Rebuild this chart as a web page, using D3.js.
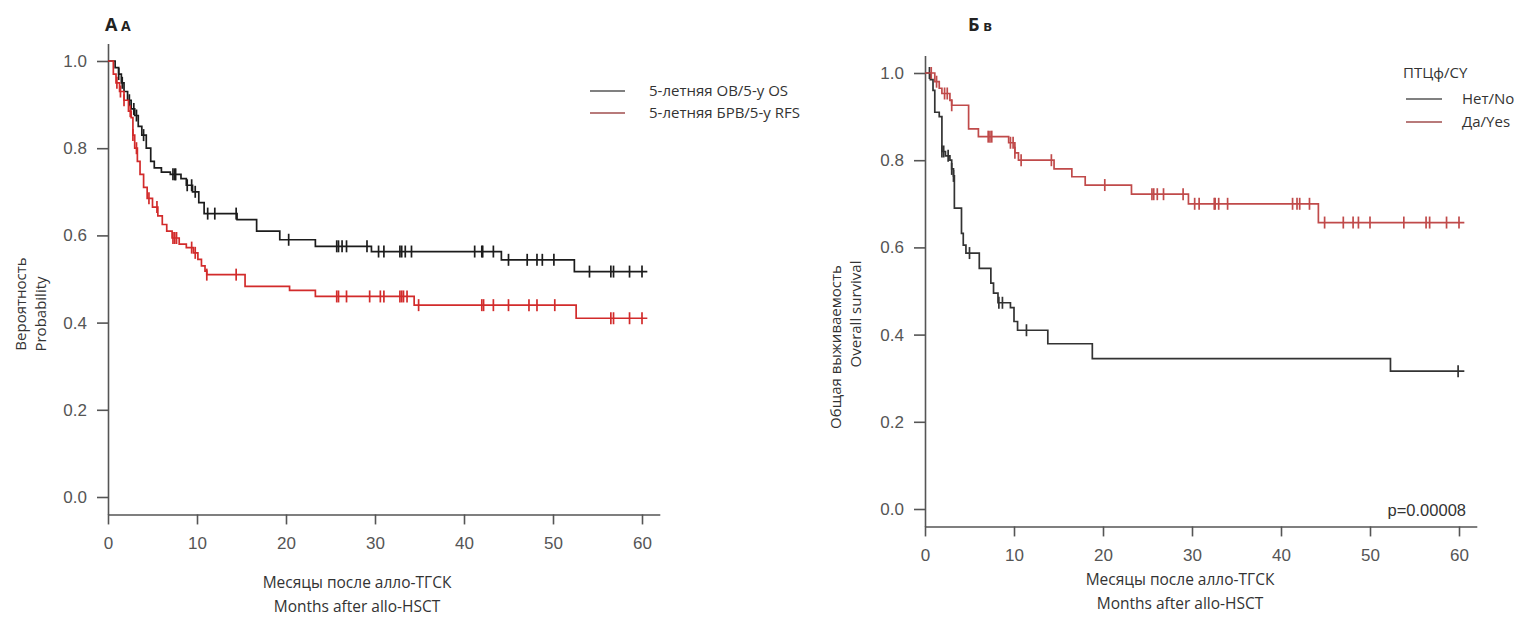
<!DOCTYPE html>
<html>
<head>
<meta charset="utf-8">
<script src="https://cdn.jsdelivr.net/npm/d3@7/dist/d3.min.js"></script>
<style>
  html, body { margin: 0; padding: 0; background: #fff; }
  svg { display: block; }
  .tick text { font-family: "Liberation Sans Narrow", "Liberation Sans", Arial, sans-serif; fill: #555; }
  .lbl { font-family: "Open Sans", "Noto Sans", sans-serif; fill: #333; }
</style>
</head>
<body>
<svg id="chart" width="1529" height="622"></svg>
<script>
// ---------- Data ----------
// Panel A: 5-year OS (black) and 5-year RFS (red)
const osTimes = [0, 0.8, 1.2, 1.5, 1.8, 2.2, 2.6, 3.0, 3.4, 3.8, 4.3, 4.8, 5.2, 6.0, 7.0, 8.2, 8.8, 9.5, 10.2, 10.8, 14.5, 16.7, 19.3, 23.3, 29.6, 44.2, 52.4];
const osSurv  = [1.0, 0.985, 0.97, 0.95, 0.93, 0.91, 0.89, 0.875, 0.85, 0.83, 0.80, 0.77, 0.755, 0.745, 0.74, 0.73, 0.715, 0.70, 0.675, 0.65, 0.636, 0.61, 0.59, 0.575, 0.563, 0.544, 0.517];
const osCensor = [1.2, 1.6, 2.4, 2.9, 3.2, 4.0, 7.3, 7.5, 7.6, 8.9, 9.4, 9.8, 11.2, 12.0, 14.4, 20.3, 25.7, 25.9, 26.3, 26.8, 29.1, 30.4, 31.0, 32.8, 33.0, 33.4, 34.1, 41.2, 42.0, 42.1, 43.3, 45.0, 47.1, 48.2, 48.8, 50.1, 54.1, 56.5, 56.8, 58.6, 60.0];

const rfsTimes = [0, 0.6, 0.9, 1.3, 1.8, 2.3, 2.6, 2.8, 3.0, 3.3, 3.6, 4.0, 4.4, 5.0, 5.6, 6.1, 6.6, 7.2, 8.0, 8.8, 9.6, 10.1, 10.5, 10.9, 11.1, 15.4, 20.4, 23.3, 34.4, 52.6];
const rfsSurv  = [1.0, 0.97, 0.95, 0.93, 0.91, 0.885, 0.87, 0.83, 0.80, 0.77, 0.74, 0.71, 0.685, 0.665, 0.645, 0.625, 0.61, 0.594, 0.58, 0.572, 0.56, 0.545, 0.53, 0.518, 0.51, 0.483, 0.474, 0.46, 0.44, 0.41];
const rfsCensor = [1.0, 1.4, 1.8, 2.5, 2.8, 3.2, 4.6, 5.5, 7.3, 7.5, 7.7, 9.4, 9.8, 11.1, 14.4, 25.7, 25.9, 26.8, 29.4, 30.6, 31.0, 32.8, 33.0, 33.2, 33.6, 34.9, 42.0, 42.2, 43.3, 45.0, 47.3, 48.2, 50.2, 56.5, 56.8, 58.6, 60.0];

// Panel B: PTCy No (black) / Yes (red)
const noTimes = [0, 0.6, 0.9, 1.1, 1.6, 1.9, 2.3, 2.8, 3.0, 3.2, 3.3, 4.1, 4.3, 4.6, 6.1, 7.4, 7.7, 8.2, 9.6, 10.0, 10.4, 13.8, 18.8, 52.3];
const noSurv  = [1.0, 0.985, 0.96, 0.91, 0.90, 0.82, 0.81, 0.80, 0.78, 0.764, 0.69, 0.632, 0.605, 0.587, 0.552, 0.518, 0.495, 0.473, 0.462, 0.43, 0.41, 0.379, 0.345, 0.316];
const noCensor = [0.5, 1.9, 2.1, 2.6, 3.0, 3.2, 5.0, 8.3, 8.7, 11.4, 59.9];

const yesTimes = [0, 1.1, 1.6, 1.9, 2.8, 3.0, 4.9, 6.0, 9.4, 10.1, 10.5, 14.5, 16.5, 18.0, 23.2, 29.6, 44.2];
const yesSurv  = [1.0, 0.98, 0.965, 0.953, 0.937, 0.926, 0.872, 0.854, 0.84, 0.817, 0.80, 0.78, 0.762, 0.743, 0.722, 0.70, 0.657];
const yesCensor = [0.7, 1.3, 2.2, 2.5, 3.0, 7.1, 7.3, 7.5, 9.6, 9.9, 10.1, 10.8, 14.2, 20.2, 25.5, 25.7, 26.1, 26.8, 29.0, 30.3, 30.8, 32.5, 32.6, 33.0, 34.0, 41.3, 41.8, 42.1, 43.2, 44.9, 47.0, 48.1, 48.7, 50.0, 53.8, 56.3, 56.7, 58.6, 60.0];

const xTicks = [0, 10, 20, 30, 40, 50, 60];
const yTicks = [0, 0.2, 0.4, 0.6, 0.8, 1.0];
const legendA = ["5-летняя ОВ/5-y OS", "5-летняя БРВ/5-y RFS"];
const legendBTitle = "ПТЦф/CY";
const legendB = ["Нет/No", "Да/Yes"];
const xTitle = ["Месяцы после алло-ТГСК", "Months after allo-HSCT"];
const yTitleA = ["Вероятность", "Probability"];
const yTitleB = ["Общая выживаемость", "Overall survival"];
const pValue = "p=0.00008";

// ---------- Drawing ----------
const svg = d3.select("#chart");
const END = 60.6;

function drawPanel(cfg) {
  const x = d3.scaleLinear().domain([0, 62]).range([cfg.x0, cfg.x0 + 62 * 8.9]);
  const y = d3.scaleLinear().domain([-0.04, 1.04]).range([cfg.y0 + 0.04 * 436, cfg.y0 - 1.04 * 436]);
  const g = svg.append("g");

  const xAxis = g.append("g")
    .attr("transform", `translate(0,${y(-0.04)})`)
    .call(d3.axisBottom(x).tickValues(xTicks).tickSize(10).tickSizeOuter(0).tickPadding(12));
  const yAxis = g.append("g")
    .attr("transform", `translate(${x(0)},0)`)
    .call(d3.axisLeft(y).tickValues(yTicks).tickFormat(d3.format(".1f")).tickSize(11).tickSizeOuter(0).tickPadding(10));
  [xAxis, yAxis].forEach(a => {
    a.selectAll("path.domain").attr("stroke", "#555").attr("stroke-width", 1.6);
    a.selectAll(".tick line").attr("stroke", "#555").attr("stroke-width", 1.6);
    a.selectAll(".tick text").style("font-size", "17px").attr("fill", "#555");
  });

  const line = d3.line().x(d => x(d[0])).y(d => y(d[1])).curve(d3.curveStepAfter);
  cfg.series.forEach(s => {
    const pts = s.times.map((t, i) => [t, s.surv[i]]);
    pts.push([END, s.surv[s.surv.length - 1]]);
    g.append("path").attr("d", line(pts)).attr("fill", "none")
      .attr("stroke", s.color).attr("stroke-width", 1.7);
    const survAt = t => s.surv[Math.max(0, d3.bisectRight(s.times, t) - 1)];
    g.selectAll(null).data(s.censor).enter().append("line")
      .attr("x1", d => x(d)).attr("x2", d => x(d))
      .attr("y1", d => y(survAt(d)) - 6).attr("y2", d => y(survAt(d)) + 6)
      .attr("stroke", s.color).attr("stroke-width", 1.7);
  });

  xTitle.forEach((t, i) => {
    g.append("text").attr("class", "lbl").attr("x", cfg.xTitleX).attr("y", cfg.xTitleY + i * 24)
      .attr("text-anchor", "middle").style("font-size", "15.5px").text(t);
  });
  cfg.yTitle.forEach((t, i) => {
    g.append("text").attr("class", "lbl")
      .attr("transform", `translate(${cfg.yTitleX + i * 20},${cfg.yTitleY[i]}) rotate(-90)`)
      .attr("text-anchor", "middle").style("font-size", "15px").text(t);
  });
  return { x, y, g };
}

drawPanel({
  x0: 108, y0: 497, xTitleX: 357, xTitleY: 588, yTitleX: 26, yTitleY: [304, 314], yTitle: yTitleA,
  series: [
    { times: osTimes, surv: osSurv, censor: osCensor, color: "#1c1c1c" },
    { times: rfsTimes, surv: rfsSurv, censor: rfsCensor, color: "#d22b2b" }
  ]
});
drawPanel({
  x0: 925, y0: 509, xTitleX: 1180, xTitleY: 585, yTitleX: 841, yTitleY: [347, 314], yTitle: yTitleB,
  series: [
    { times: noTimes, surv: noSurv, censor: noCensor, color: "#333333" },
    { times: yesTimes, surv: yesSurv, censor: yesCensor, color: "#c04a4a" }
  ]
});

function letter(xp, big, small) {
  const t = svg.append("text").attr("x", xp).attr("y", 31)
    .style("font-family", "'Open Sans', 'Noto Sans', sans-serif").style("font-weight", "bold").attr("fill", "#222");
  t.append("tspan").style("font-size", "18px").text(big);
  t.append("tspan").style("font-size", "14px").text(" " + small);
}
letter(105, "А", "А");
letter(968, "Б", "в");

const legColors = ["#808080", "#b87a7a"];
legendA.forEach((t, i) => {
  svg.append("line").attr("x1", 590).attr("x2", 625).attr("y1", 91 + i * 22).attr("y2", 91 + i * 22)
    .attr("stroke", legColors[i]).attr("stroke-width", 2);
  svg.append("text").attr("class", "lbl").attr("x", 649).attr("y", 96 + i * 22)
    .style("font-size", "15px").text(t);
});
svg.append("text").attr("class", "lbl").attr("x", 1403).attr("y", 78).style("font-size", "15px").text(legendBTitle);
legendB.forEach((t, i) => {
  svg.append("line").attr("x1", 1406).attr("x2", 1442).attr("y1", 99 + i * 23).attr("y2", 99 + i * 23)
    .attr("stroke", legColors[i]).attr("stroke-width", 2);
  svg.append("text").attr("class", "lbl").attr("x", 1462).attr("y", 104 + i * 23)
    .style("font-size", "15px").text(t);
});
svg.append("text").attr("x", 1466).attr("y", 516).attr("text-anchor", "end")
  .style("font-family", "'Liberation Sans', Arial, sans-serif").style("font-size", "16.5px").attr("fill", "#333").text(pValue);
</script>
</body>
</html>
